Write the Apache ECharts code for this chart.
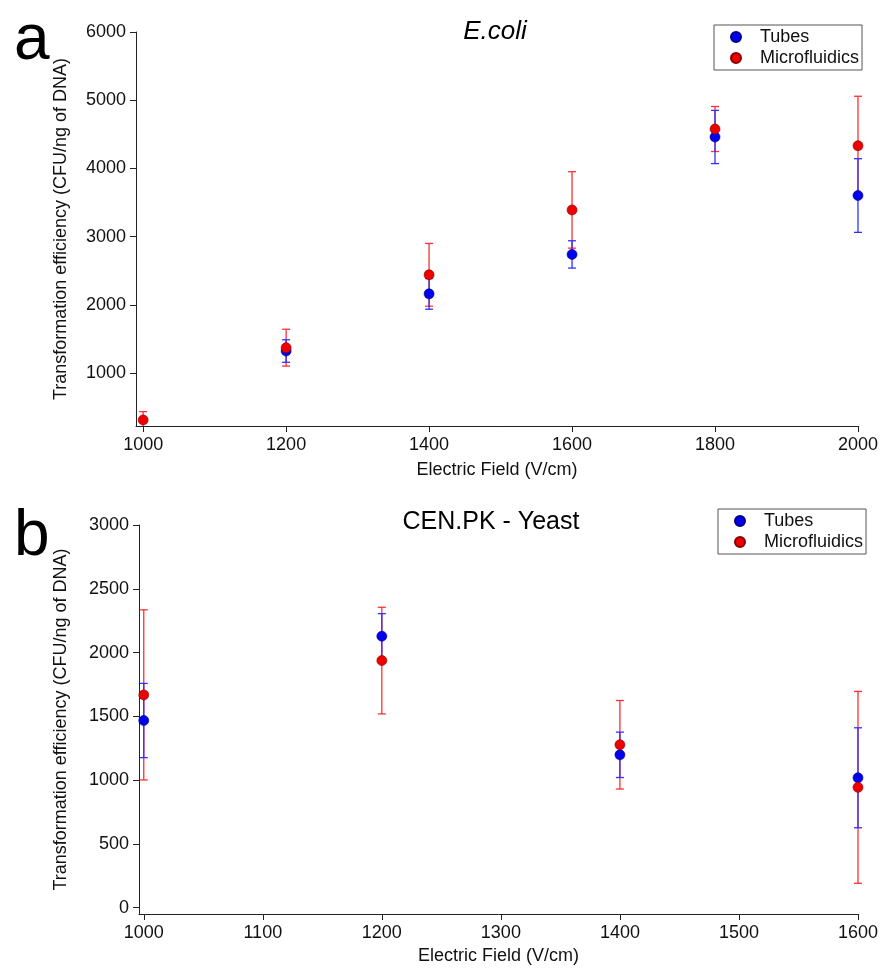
<!DOCTYPE html>
<html>
<head>
<meta charset="utf-8">
<script src="https://cdn.jsdelivr.net/npm/echarts@6/dist/echarts.min.js"></script>
<style>
  html, body { margin: 0; padding: 0; background: #fff; }
  #chart { width: 881px; height: 970px; }
</style>
</head>
<body>
<div id="chart"></div>
<script>
// panel a - E.coli
var fieldA = [1000, 1200, 1400, 1600, 1800, 2000];
var tubesA = [null, 1324, 2162, 2740, 4461, 3603];
var tubesErrA = [null, 165, 225, 200, 390, 540];
var microA = [314, 1373, 2441, 3392, 4578, 4333];
var microErrA = [122, 270, 460, 560, 330, 725];
var xTicksA = [1000, 1200, 1400, 1600, 1800, 2000];
var yTicksA = [1000, 2000, 3000, 4000, 5000, 6000];

// panel b - yeast
var fieldB = [1000, 1200, 1400, 1600];
var tubesB = [1467, 2128, 1198, 1018];
var tubesErrB = [291, 177, 178, 392];
var microB = [1668, 1937, 1277, 943];
var microErrB = [667, 418, 347, 752];
var xTicksB = [1000, 1100, 1200, 1300, 1400, 1500, 1600];
var yTicksB = [0, 500, 1000, 1500, 2000, 2500, 3000];

var BLUE = '#0000ee', RED = '#ee0000';
var FONT = 'Liberation Sans';
var yMinA = 225, yMinB = -50;

function pts(xs, ys) {
    var out = [];
    xs.forEach(function (x, i) { if (ys[i] != null) out.push([x, ys[i]]); });
    return out;
}
function errs(xs, ys, es) {
    var out = [];
    xs.forEach(function (x, i) { if (ys[i] != null) out.push([x, ys[i], es[i]]); });
    return out;
}
// error bars, cut at the bottom of the axis like the original
function errRender(color, yMin) {
    return function (params, api) {
        var x = api.value(0), v = api.value(1), e = api.value(2);
        var cut = v - e < yMin;
        var hi = api.coord([x, v + e]), lo = api.coord([x, cut ? yMin : v - e]);
        var w = 4;
        var st = { stroke: color, lineWidth: 1.3 };
        var kids = [
            { type: 'line', shape: { x1: hi[0], y1: hi[1], x2: lo[0], y2: lo[1] }, style: st },
            { type: 'line', shape: { x1: hi[0] - w, y1: hi[1], x2: hi[0] + w, y2: hi[1] }, style: st }
        ];
        if (!cut) kids.push({ type: 'line', shape: { x1: lo[0] - w, y1: lo[1], x2: lo[0] + w, y2: lo[1] }, style: st });
        return { type: 'group', children: kids };
    };
}
var plain = function (v) { return String(v); };

function xAxisCfg(idx, min, max, ticks, gap) {
    return {
        type: 'value', gridIndex: idx, min: min, max: max,
        name: 'Electric Field (V/cm)', nameLocation: 'middle', nameGap: gap,
        nameTextStyle: { fontFamily: FONT, fontSize: 18, color: '#111' },
        axisLine: { show: true, onZero: false, lineStyle: { color: '#222', width: 1 } },
        axisTick: { show: true, length: 6, customValues: ticks, lineStyle: { color: '#222' } },
        axisLabel: { customValues: ticks, formatter: plain, margin: 10, fontFamily: FONT, fontSize: 18, color: '#111' },
        splitLine: { show: false }
    };
}
function yAxisCfg(idx, min, max, ticks, gap) {
    return {
        type: 'value', gridIndex: idx, min: min, max: max,
        name: 'Transformation efficiency (CFU/ng of DNA)', nameLocation: 'middle', nameGap: gap,
        nameTextStyle: { fontFamily: FONT, fontSize: 18, color: '#111' },
        axisLine: { show: true, onZero: false, lineStyle: { color: '#222', width: 1 } },
        axisTick: { show: true, length: 6, customValues: ticks, lineStyle: { color: '#222' } },
        axisLabel: { customValues: ticks, formatter: plain, margin: 10, fontFamily: FONT, fontSize: 18, color: '#111' },
        splitLine: { show: false }
    };
}
function legendCfg(left, top) {
    return {
        orient: 'vertical', left: left, top: top,
        data: ['Tubes', 'Microfluidics'],
        icon: 'circle', itemWidth: 10, itemHeight: 10, itemGap: 3,
        padding: [3, 3, 3, 16],
        borderColor: '#555', borderWidth: 1,
        selectedMode: false,
        textStyle: { fontFamily: FONT, fontSize: 18, color: '#111', padding: [0, 0, 0, 14] }
    };
}

var chart = echarts.init(document.getElementById('chart'));
chart.setOption({
    animation: false,
    backgroundColor: '#fff',
    title: [
        { text: 'a', left: 9, top: 4, textStyle: { fontFamily: FONT, fontSize: 64, fontWeight: 'normal', color: '#000' } },
        { text: 'b', left: 9, top: 500, textStyle: { fontFamily: FONT, fontSize: 64, fontWeight: 'normal', color: '#000' } },
        { text: 'E.coli', left: 490, top: 14, textAlign: 'center', textStyle: { fontFamily: FONT, fontSize: 26, fontStyle: 'italic', fontWeight: 'normal', color: '#000' } },
        { text: 'CEN.PK - Yeast', left: 486, top: 505, textAlign: 'center', textStyle: { fontFamily: FONT, fontSize: 25, fontWeight: 'normal', color: '#000' } }
    ],
    legend: [legendCfg(714, 25), legendCfg(718, 509)],
    grid: [
        { left: 136, top: 32, width: 726, height: 394 },
        { left: 139, top: 525, width: 723, height: 389 }
    ],
    xAxis: [xAxisCfg(0, 990, 2000, xTicksA, 35), xAxisCfg(1, 996, 1600, xTicksB, 33)],
    yAxis: [yAxisCfg(0, yMinA, 6000, yTicksA, 66), yAxisCfg(1, yMinB, 3000, yTicksB, 69)],
    series: [
        { type: 'custom', name: 'microErrA', xAxisIndex: 0, yAxisIndex: 0, z: 2,
          renderItem: errRender('#ff3030', yMinA), data: errs(fieldA, microA, microErrA) },
        { type: 'custom', name: 'tubesErrA', xAxisIndex: 0, yAxisIndex: 0, z: 3,
          renderItem: errRender('#3030ff', yMinA), data: errs(fieldA, tubesA, tubesErrA) },
        { type: 'scatter', name: 'Tubes', xAxisIndex: 0, yAxisIndex: 0, z: 4, symbolSize: 10,
          itemStyle: { color: BLUE, borderColor: '#000088', borderWidth: 0.6, opacity: 1 }, data: pts(fieldA, tubesA) },
        { type: 'scatter', name: 'Microfluidics', xAxisIndex: 0, yAxisIndex: 0, z: 5, symbolSize: 10,
          itemStyle: { color: RED, borderColor: '#880000', borderWidth: 0.6, opacity: 1 }, data: pts(fieldA, microA) },

        { type: 'custom', name: 'microErrB', xAxisIndex: 1, yAxisIndex: 1, z: 2,
          renderItem: errRender('#ff3030', yMinB), data: errs(fieldB, microB, microErrB) },
        { type: 'custom', name: 'tubesErrB', xAxisIndex: 1, yAxisIndex: 1, z: 3,
          renderItem: errRender('#3030ff', yMinB), data: errs(fieldB, tubesB, tubesErrB) },
        { type: 'scatter', name: 'Tubes', xAxisIndex: 1, yAxisIndex: 1, z: 4, symbolSize: 10,
          itemStyle: { color: BLUE, borderColor: '#000088', borderWidth: 0.6, opacity: 1 }, data: pts(fieldB, tubesB) },
        { type: 'scatter', name: 'Microfluidics', xAxisIndex: 1, yAxisIndex: 1, z: 5, symbolSize: 10,
          itemStyle: { color: RED, borderColor: '#880000', borderWidth: 0.6, opacity: 1 }, data: pts(fieldB, microB) }
    ]
});
</script>
</body>
</html>
